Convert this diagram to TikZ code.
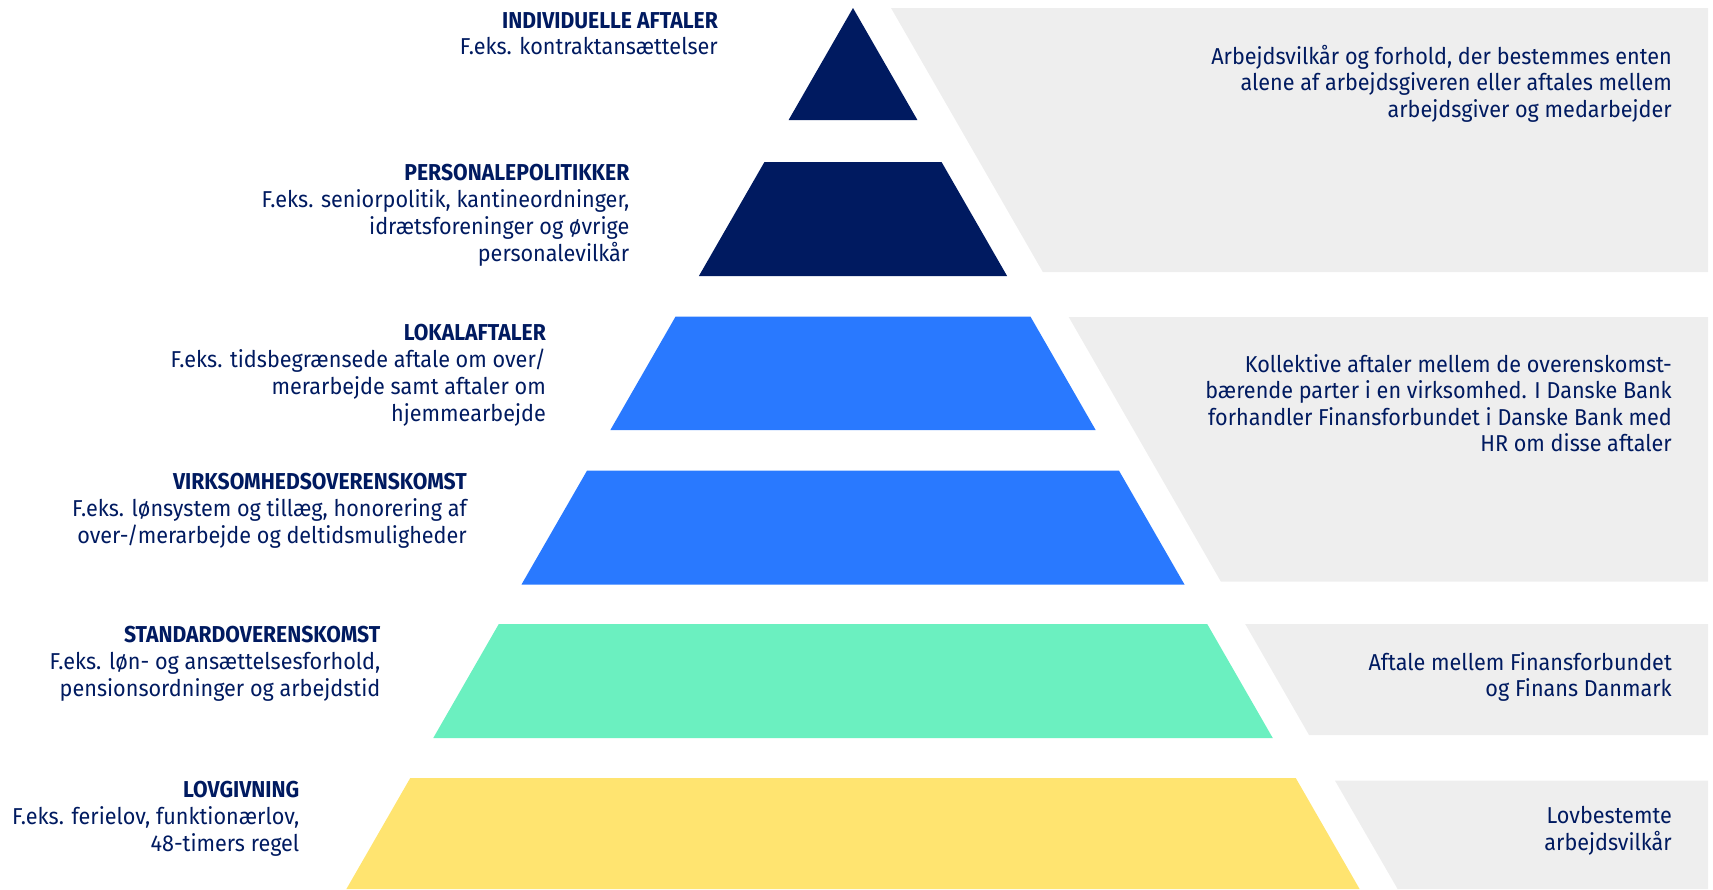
\documentclass[tikz,border=0pt]{standalone}
\usepackage{fontspec}
\setmainfont[FakeStretch=0.94]{Fira Sans}
\newfontfamily\hdfont[FakeStretch=0.92]{Fira Sans}
\definecolor{navy}{RGB}{0,26,96}
\definecolor{tblue}{RGB}{41,121,255}
\definecolor{mint}{RGB}{107,240,192}
\definecolor{tyellow}{RGB}{255,228,112}
\definecolor{band}{RGB}{238,238,238}
\tikzset{
  hd/.style={anchor=base east, inner sep=0pt, text=navy, font=\hdfont\bfseries\fontsize{23}{27}\selectfont},
  bd/.style={anchor=base east, inner sep=0pt, text=navy, font=\fontsize{23}{27}\selectfont},
  tier/.style={draw=none},
  greyband/.style={fill=band, draw=none}
}
\begin{document}
\begin{tikzpicture}[x=1pt,y=-1pt]
\useasboundingbox (0,0) rectangle (1713,889);
% grey bands
\fill[greyband] (891,8) -- (1708,8) -- (1708,272) -- (1042.8,272) -- cycle;
\fill[greyband] (1068.7,317) -- (1708,317) -- (1708,581.5) -- (1220.8,581.5) -- cycle;
\fill[greyband] (1245.2,624) -- (1708,624) -- (1708,735) -- (1309,735) -- cycle;
\fill[greyband] (1334.9,780.5) -- (1708,780.5) -- (1708,889) -- (1397.6,889) -- cycle;
% pyramid tiers
\fill[tier, navy] (853,8) -- (917.4,120) -- (788.6,120) -- cycle;
\fill[tier, navy] (764.45,162) -- (941.55,162) -- (1007.1,276) -- (698.9,276) -- cycle;
\fill[tier, tblue] (675.6,316.5) -- (1030.4,316.5) -- (1095.65,430) -- (610.35,430) -- cycle;
\fill[tier, tblue] (587.1,470.5) -- (1118.9,470.5) -- (1184.5,584.5) -- (521.5,584.5) -- cycle;
\fill[tier, mint] (498.8,624) -- (1207.2,624) -- (1272.75,738) -- (433.25,738) -- cycle;
\fill[tier, tyellow] (410.25,778) -- (1295.75,778) -- (1359.6,889) -- (346.4,889) -- cycle;
% left texts
\node[hd] (h1) at (718,28.3) {INDIVIDUELLE AFTALER};
\node[bd] (b1a) at (718,54.3) {F.eks. kontraktansættelser};

\node[hd] (h2) at (629.5,180) {PERSONALEPOLITIKKER};
\node[bd] (b2a) at (629.5,207.5) {F.eks. seniorpolitik, kantineordninger,};
\node[bd] (b2b) at (629.5,234.5) {idrætsforeninger og øvrige};
\node[bd] (b2c) at (629.5,261.5) {personalevilkår};

\node[hd] (h3) at (546,340.5) {LOKALAFTALER};
\node[bd] (b3a) at (546,367.5) {F.eks. tidsbegrænsede aftale om over/};
\node[bd] (b3b) at (546,394.5) {merarbejde samt aftaler om};
\node[bd] (b3c) at (546,421.5) {hjemmearbejde};

\node[hd] (h4) at (467,489) {VIRKSOMHEDSOVERENSKOMST};
\node[bd] (b4a) at (467,516) {F.eks. lønsystem og tillæg, honorering af};
\node[bd] (b4b) at (467,543) {over-/merarbejde og deltidsmuligheder};

\node[hd] (h5) at (380.5,642.5) {STANDARDOVERENSKOMST};
\node[bd] (b5a) at (380.5,669.5) {F.eks. løn- og ansættelsesforhold,};
\node[bd] (b5b) at (380.5,696.5) {pensionsordninger og arbejdstid};

\node[hd] (h6) at (299.5,797) {LOVGIVNING};
\node[bd] (b6a) at (299.5,824) {F.eks. ferielov, funktionærlov,};
\node[bd] (b6b) at (299.5,851) {48-timers regel};
% right texts
\node[bd] (r1a) at (1672,64) {Arbejdsvilkår og forhold, der bestemmes enten};
\node[bd] (r1b) at (1672,90.5) {alene af arbejdsgiveren eller aftales mellem};
\node[bd] (r1c) at (1672,117) {arbejdsgiver og medarbejder};

\node[bd] (r2a) at (1672,372) {Kollektive aftaler mellem de overenskomst-};
\node[bd] (r2b) at (1672,398.5) {bærende parter i en virksomhed. I Danske Bank};
\node[bd] (r2c) at (1672,425) {forhandler Finansforbundet i Danske Bank med};
\node[bd] (r2d) at (1672,451.5) {HR om disse aftaler};

\node[bd] (r3a) at (1672,670) {Aftale mellem Finansforbundet};
\node[bd] (r3b) at (1672,696.5) {og Finans Danmark};

\node[bd] (r4a) at (1672,823.5) {Lovbestemte};
\node[bd] (r4b) at (1672,850) {arbejdsvilkår};
\end{tikzpicture}
\end{document}
